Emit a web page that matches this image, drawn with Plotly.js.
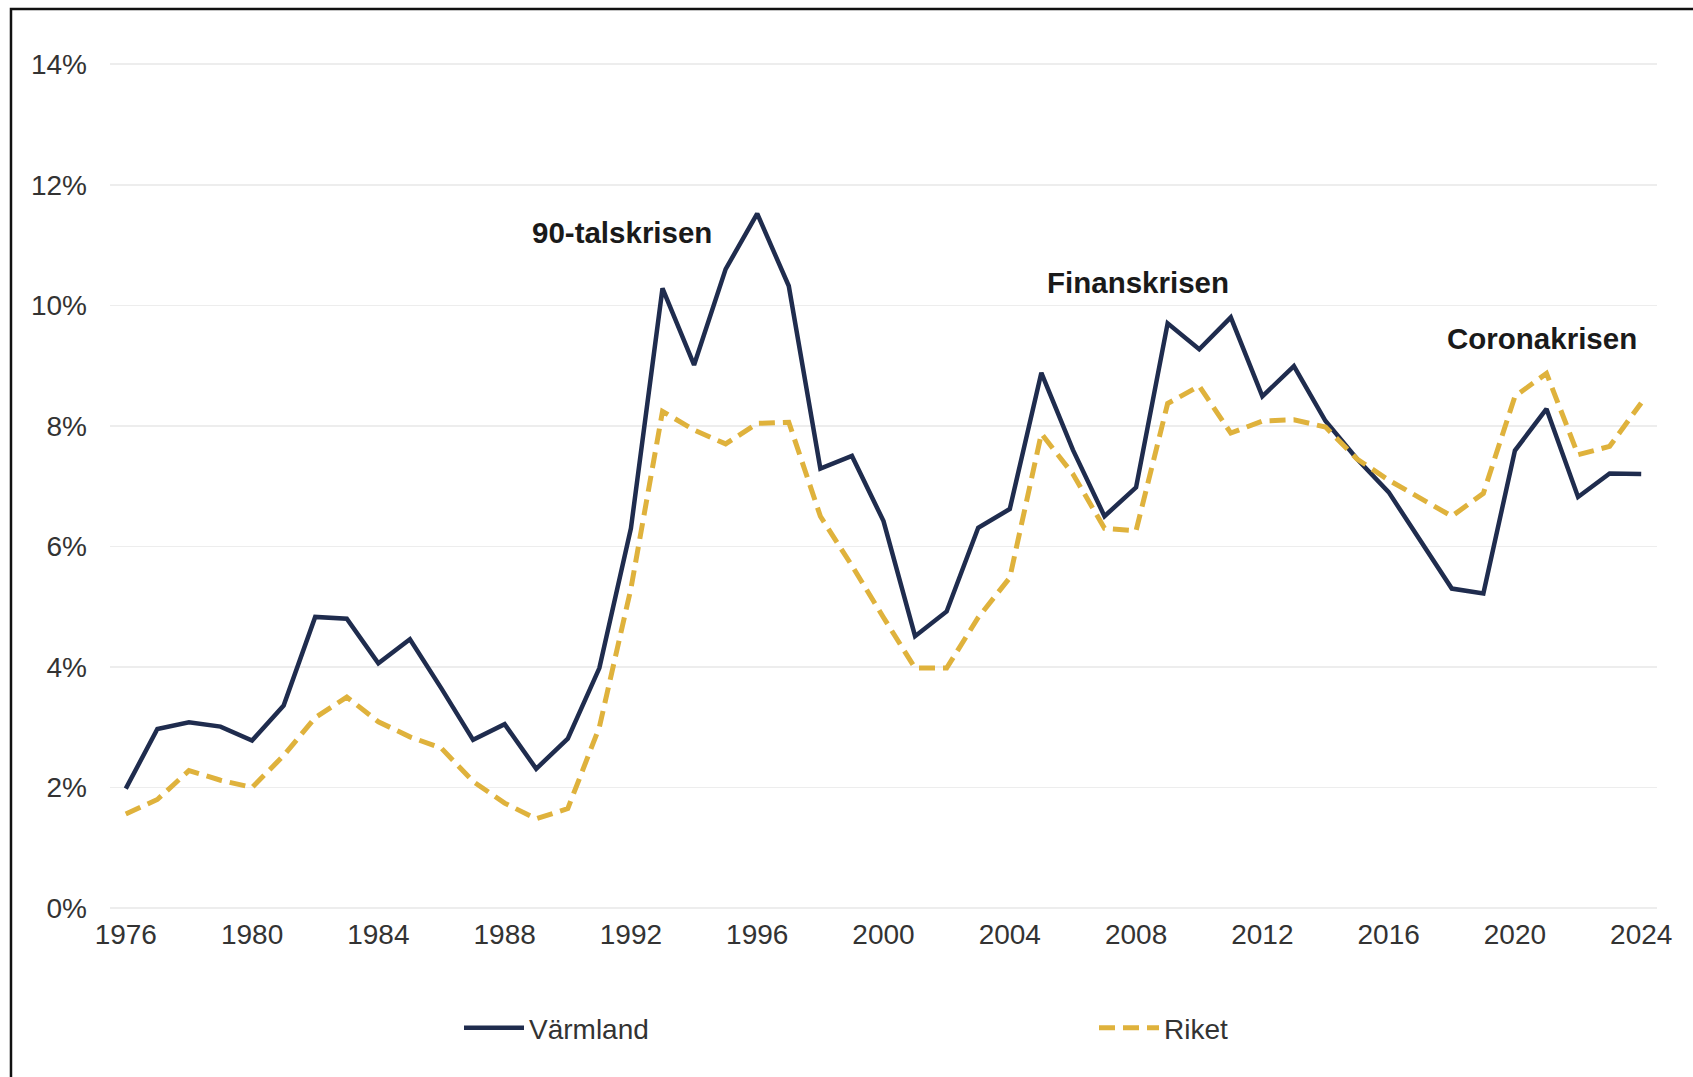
<!DOCTYPE html>
<html>
<head>
<meta charset="utf-8">
<script src="https://cdn.plot.ly/plotly-3.0.1.min.js"></script>
<style>
  html, body { margin: 0; padding: 0; background: #ffffff; }
  #chart { width: 1693px; height: 1077px; }
</style>
</head>
<body>
<div id="chart"></div>
<script>
// Years 1976–2024
const years = [
  1976, 1977, 1978, 1979, 1980, 1981, 1982, 1983, 1984, 1985,
  1986, 1987, 1988, 1989, 1990, 1991, 1992, 1993, 1994, 1995,
  1996, 1997, 1998, 1999, 2000, 2001, 2002, 2003, 2004, 2005,
  2006, 2007, 2008, 2009, 2010, 2011, 2012, 2013, 2014, 2015,
  2016, 2017, 2018, 2019, 2020, 2021, 2022, 2023, 2024
];

// Unemployment rate (%) – Värmland
const varmland = [
  1.98, 2.97, 3.08, 3.01, 2.78, 3.36, 4.83, 4.80, 4.06, 4.46,
  3.64, 2.79, 3.05, 2.31, 2.81, 3.98, 6.30, 10.28, 9.01, 10.60,
  11.52, 10.32, 7.29, 7.50, 6.42, 4.51, 4.92, 6.31, 6.62, 8.88,
  7.60, 6.50, 6.98, 9.70, 9.27, 9.80, 8.49, 8.99, 8.08, 7.45,
  6.90, 6.10, 5.30, 5.22, 7.59, 8.28, 6.82, 7.21, 7.20
];

// Unemployment rate (%) – Riket
const riket = [
  1.56, 1.80, 2.28, 2.12, 2.00, 2.53, 3.16, 3.50, 3.09, 2.84,
  2.65, 2.10, 1.74, 1.48, 1.65, 3.00, 5.30, 8.24, 7.93, 7.70,
  8.04, 8.06, 6.50, 5.68, 4.82, 3.98, 3.98, 4.82, 5.48, 7.87,
  7.20, 6.30, 6.26, 8.37, 8.66, 7.88, 8.08, 8.10, 7.98, 7.45,
  7.10, 6.80, 6.50, 6.88, 8.49, 8.87, 7.52, 7.66, 8.38
];

const seriesNames = ["Värmland", "Riket"];

const xTicks = [1976, 1980, 1984, 1988, 1992, 1996, 2000, 2004, 2008, 2012, 2016, 2020, 2024];
const xTickText = xTicks.map(String);
const yTicks = [0, 2, 4, 6, 8, 10, 12, 14];
const yTickText = yTicks.map(v => v + "%");

// Crisis labels
const crisisLabels = ["90-talskrisen", "Finanskrisen", "Coronakrisen"];
const crisisX = [1991.73, 2008.06, 2020.87];
const crisisY = [11.2, 10.38, 9.45];

const NAVY = "#1f2c4e";
const GOLD = "#dfb23c";
const TEXT = "#333333";
const FONT = "Liberation Sans, Arial, Helvetica, sans-serif";

const traces = [
  {
    x: years, y: varmland, name: seriesNames[0], type: "scatter", mode: "lines",
    line: { color: NAVY, width: 4.5 },
    hoverinfo: "skip"
  },
  {
    x: years, y: riket, name: seriesNames[1], type: "scatter", mode: "lines",
    line: { color: GOLD, width: 5, dash: "16px,8px" },
    hoverinfo: "skip"
  }
];

const annotations = crisisLabels.map((t, i) => ({
  text: t, x: crisisX[i], y: crisisY[i], xref: "x", yref: "y",
  showarrow: false, xanchor: "center", yanchor: "middle",
  font: { family: FONT, size: 29.5, color: "#1a1a1a", weight: 700 }
}));

const layout = {
  width: 1693, height: 1077,
  paper_bgcolor: "#ffffff", plot_bgcolor: "#ffffff",
  margin: { l: 110, r: 36, t: 63, b: 169, pad: 0, autoexpand: false },
  showlegend: true,
  legend: {
    orientation: "h",
    x: 0.2256, xanchor: "left",
    y: -0.142, yanchor: "middle",
    font: { family: FONT, size: 28, color: TEXT },
    itemwidth: 60,
    entrywidth: 560, entrywidthmode: "pixels",
    bgcolor: "rgba(0,0,0,0)", borderwidth: 0,
    traceorder: "normal"
  },
  xaxis: {
    type: "linear",
    range: [1975.5, 2024.5],
    tickmode: "array", tickvals: xTicks, ticktext: xTickText,
    showgrid: false, zeroline: false, showline: false, ticks: "",
    tickfont: { family: FONT, size: 28, color: TEXT },
    ticklabelstandoff: 7,
    automargin: false,
    fixedrange: true
  },
  yaxis: {
    range: [0, 14.02],
    tickmode: "array", tickvals: yTicks, ticktext: yTickText,
    showgrid: true, gridcolor: "#ededed", gridwidth: 1.5,
    zeroline: true, zerolinecolor: "#ededed", zerolinewidth: 1.5,
    showline: false, ticks: "",
    tickfont: { family: FONT, size: 28, color: TEXT },
    ticklabelstandoff: 22,
    automargin: false,
    fixedrange: true
  },
  annotations: annotations,
  shapes: [
    {
      type: "rect", xref: "paper", yref: "paper",
      x0: -0.0640, x1: 1.05, y0: -0.25, y1: 1.0640,
      line: { color: "#111111", width: 2.5 },
      fillcolor: "rgba(0,0,0,0)", layer: "below"
    }
  ]
};

Plotly.newPlot("chart", traces, layout, { displayModeBar: false, staticPlot: true });
</script>
</body>
</html>
